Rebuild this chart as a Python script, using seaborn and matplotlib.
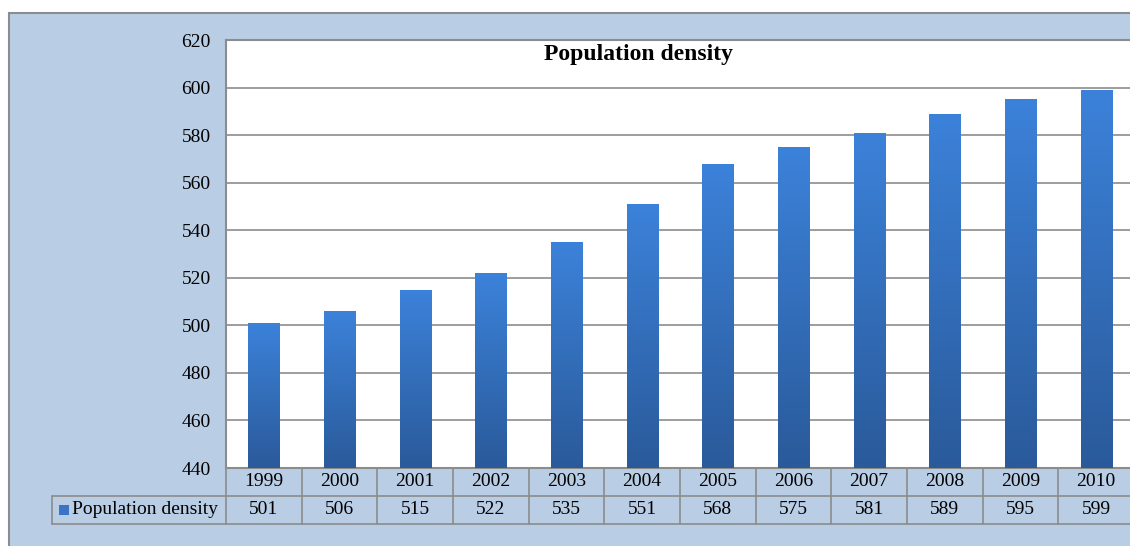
import numpy as np
import pandas as pd
import seaborn as sns
import matplotlib.pyplot as plt
from matplotlib.patches import Rectangle
from matplotlib.colors import LinearSegmentedColormap
import matplotlib.transforms as mtransforms

years = ['1999', '2000', '2001', '2002', '2003', '2004',
         '2005', '2006', '2007', '2008', '2009', '2010']
density = [501, 506, 515, 522, 535, 551, 568, 575, 581, 589, 595, 599]
series_name = 'Population density'
y_ticks = [440, 460, 480, 500, 520, 540, 560, 580, 600, 620]

sns.set_theme(style='white')
plt.rcParams['font.family'] = ['Liberation Serif', 'DejaVu Serif']
plt.rcParams['text.color'] = 'black'
plt.rcParams['ytick.color'] = 'black'

bg = '#b9cde5'
edge = '#8c8c8c'
W, H = 1130, 546
fs = 14

fig = plt.figure(figsize=(W / 100, H / 100), dpi=100, facecolor='white')
# light blue chart area with grey border
fig.patches.append(Rectangle((9 / W, -0.1), 1.5, 1 - 13 / H + 0.1, transform=fig.transFigure,
                             facecolor=bg, edgecolor=edge, linewidth=1.5, zorder=-1))

left, right, top, bottom = 226 / W, 1134 / W, 1 - 40 / H, 1 - 468 / H
ax = fig.add_axes([left, bottom, right - left, top - bottom])
ax.set_facecolor('white')

df = pd.DataFrame({'year': years, 'value': density})
sns.barplot(data=df, x='year', y='value', color='#2f6bb8', width=0.41, ax=ax, zorder=3,
            linewidth=0, saturation=1)

ax.set_ylim(440, 620)
ax.set_xlim(-0.5, len(years) - 0.5)
ax.set_yticks(y_ticks)
ax.set_yticklabels([str(t) for t in y_ticks], fontsize=fs, color='black')
ax.tick_params(axis='y', length=0, pad=11)
ax.set_xticks([])
ax.set_xlabel('')
ax.set_ylabel('')
ax.yaxis.grid(True, color='#8c8c8c', linewidth=1.2, zorder=1)
ax.set_axisbelow(True)
for s in ax.spines.values():
    s.set_color(edge)
    s.set_linewidth(1.5)

# gradient fill on bars
cmap = LinearSegmentedColormap.from_list('bar', ['#2a5a9a', '#3c82da'])
grad = np.linspace(0, 1, 256).reshape(-1, 1)
for p in ax.patches:
    x0, y0 = p.get_x(), p.get_y()
    w, h = p.get_width(), p.get_height()
    im = ax.imshow(grad, cmap=cmap, origin='lower', aspect='auto',
                   extent=[x0, x0 + w, 440, y0 + h], zorder=4)
    im.set_clip_path(p)
ax.set_xlim(-0.5, len(years) - 0.5)
ax.set_ylim(440, 620)

ax.text(0.454, 0.99, series_name, transform=ax.transAxes, ha='center', va='top',
        fontsize=17, fontweight='bold', color='black')

# data table below the axes
axw_px = (right - left) * W
axh_px = (top - bottom) * H
row_h = 28 / axh_px
lab_w = 174 / axw_px
trans = mtransforms.blended_transform_factory(ax.transData, ax.transAxes)
for i, (yr, v) in enumerate(zip(years, density)):
    ax.text(i, -row_h / 2, yr, transform=trans, ha='center', va='center', fontsize=fs, clip_on=False)
    ax.text(i, -1.5 * row_h, str(v), transform=trans, ha='center', va='center', fontsize=fs, clip_on=False)
    ax.plot([i + 0.5, i + 0.5], [0, -2 * row_h], transform=trans, color=edge, lw=1.2, clip_on=False)
ax.plot([-lab_w, 1], [-row_h, -row_h], transform=ax.transAxes, color=edge, lw=1.2, clip_on=False)
ax.plot([-lab_w, 1], [-2 * row_h, -2 * row_h], transform=ax.transAxes, color=edge, lw=1.2, clip_on=False)
ax.plot([-lab_w, -lab_w], [-row_h, -2 * row_h], transform=ax.transAxes, color=edge, lw=1.2, clip_on=False)
ax.plot([0, 0], [0, -2 * row_h], transform=ax.transAxes, color=edge, lw=1.2, clip_on=False)
ax.add_patch(Rectangle((-lab_w + 7 / axw_px, -1.5 * row_h - 5 / axh_px), 10 / axw_px, 10 / axh_px,
                       transform=ax.transAxes, facecolor='#3a74c4', edgecolor='none', clip_on=False))
ax.text(-lab_w + 20 / axw_px, -1.5 * row_h, series_name, transform=ax.transAxes,
        ha='left', va='center', fontsize=fs, clip_on=False)

fig.savefig('out.png', dpi=100, facecolor='white')
